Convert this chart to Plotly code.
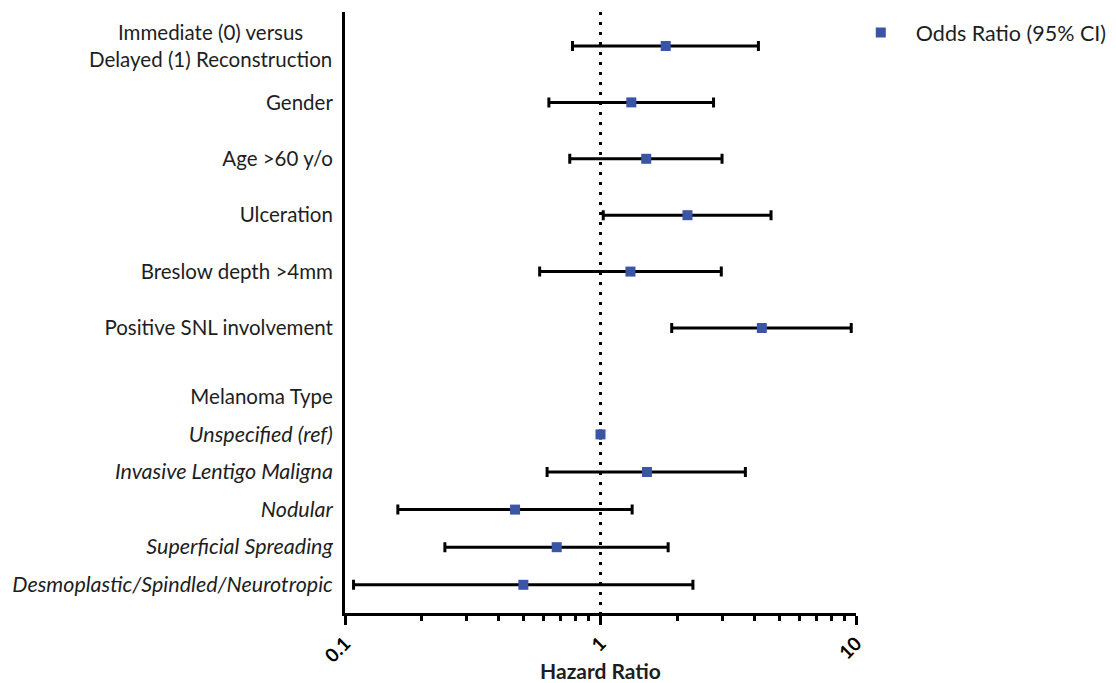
import numpy as np
import plotly.graph_objects as go

# ---- data ----
labels = [
    "Immediate (0) versus<br>Delayed (1) Reconstruction",
    "Gender",
    "Age >60 y/o",
    "Ulceration",
    "Breslow depth >4mm",
    "Positive SNL involvement",
    "Melanoma Type",
    "<i>Unspecified (ref)</i>",
    "<i>Invasive Lentigo Maligna</i>",
    "<i>Nodular</i>",
    "<i>Superficial Spreading</i>",
    "<i>Desmoplastic/Spindled/Neurotropic</i>",
]
odds_ratio = [1.80, 1.32, 1.51, 2.19, 1.31, 4.28, None, 1.00, 1.52, 0.463, 0.674, 0.499]
ci_low =     [0.777, 0.628, 0.758, 1.025, 0.578, 1.90, None, 1.00, 0.618, 0.161, 0.246, 0.108]
ci_high =    [4.15, 2.77, 2.99, 4.65, 2.97, 9.58, None, 1.00, 3.69, 1.33, 1.84, 2.30]
x_ticks = [0.1, 1, 10]
x_tick_text = ["0.1", "1", "10"]

# ---- layout of rows (gaps between successive rows) ----
row_gaps = [1.5, 1.5, 1.5, 1.5, 1.5, 1.83, 1, 1, 1, 1, 1]
ypos = np.concatenate([[0], np.cumsum(row_gaps)])

idx = [i for i, v in enumerate(odds_ratio) if v is not None]
xs = [odds_ratio[i] for i in idx]
ys = [ypos[i] for i in idx]
plus = [ci_high[i] - odds_ratio[i] for i in idx]
minus = [odds_ratio[i] - ci_low[i] for i in idx]

FONT = "Lato"
TXT = "#1e1e1e"
BLUE = "#3a55a5"

fig = go.Figure()
y_lo, y_hi = -0.904, 15.08

# reference line at 1
fig.add_trace(go.Scatter(
    x=[1, 1], y=[y_lo, y_hi], mode="lines",
    line=dict(color="black", width=3, dash="3px,7px"),
    showlegend=False, hoverinfo="skip",
))

fig.add_trace(go.Scatter(
    x=xs, y=ys, mode="markers", name="Odds Ratio (95% CI)",
    marker=dict(symbol="square", size=10, color=BLUE),
    error_x=dict(type="data", symmetric=False, array=plus, arrayminus=minus,
                 color="black", thickness=3, width=5),
))

def fmt(t):
    if t.startswith("<i>"):
        return '<span style="font-size:21.5px">' + t + "</span>"
    return t

tick_text = [fmt(t) for t in labels]
tick_text[0] = ""

fig.update_layout(
    width=1108, height=675,
    margin=dict(l=337, r=256, t=4, b=70),
    paper_bgcolor="white", plot_bgcolor="white",
    font=dict(family=FONT, size=20.5, color=TXT),
    showlegend=True,
    legend=dict(x=0.98, y=1.0, xanchor="left", yanchor="top",
                font=dict(family=FONT, size=21.5, color=TXT),
                itemwidth=60,
                bgcolor="rgba(0,0,0,0)"),
    xaxis=dict(
        type="log", range=[-1, 1], automargin=False,
        showline=True, linecolor="black", linewidth=3,
        showgrid=False, zeroline=False,
        ticks="outside", ticklen=9, tickwidth=3, tickcolor="black",
        tickvals=x_ticks, ticktext=x_tick_text, tickangle=-45,
        tickfont=dict(family=FONT, size=19, color="black", weight="bold"),
        minor=dict(ticks="outside", ticklen=5, tickwidth=3, tickcolor="black",
                   tickvals=[0.2, 0.3, 0.4, 0.5, 0.6, 0.7, 0.8, 0.9,
                             2, 3, 4, 5, 6, 7, 8, 9]),
        title=dict(text="<b>Hazard Ratio</b>", font=dict(family=FONT, size=21, color=TXT),
                   standoff=2),
    ),
    yaxis=dict(
        range=[y_hi, y_lo], automargin=False,
        showline=True, linecolor="black", linewidth=3,
        showgrid=False, zeroline=False, ticks="",
        tickvals=list(ypos), ticktext=tick_text,
        ticklabelstandoff=5,
        tickfont=dict(family=FONT, size=20.5, color=TXT),
    ),
)

fig.add_annotation(
    text=labels[0], xref="paper", yref="y", x=-0.021, y=ypos[0],
    xanchor="right", yanchor="middle", align="center", showarrow=False,
    font=dict(family=FONT, size=20.5, color=TXT),
)

fig.write_html("out.html")
